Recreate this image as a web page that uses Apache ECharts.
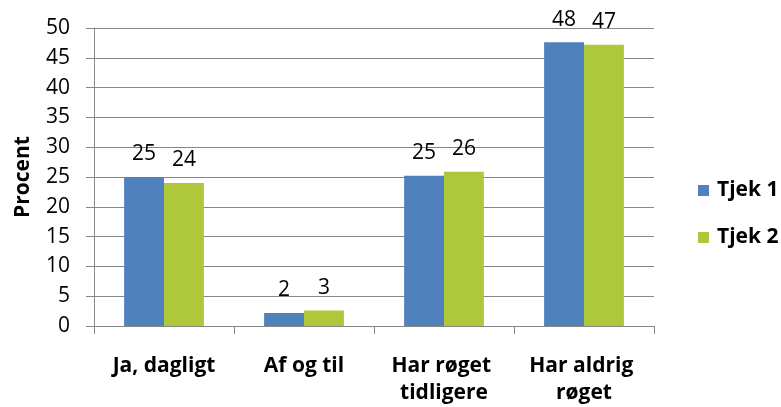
<!DOCTYPE html>
<html>
<head>
<meta charset="utf-8">
<script src="https://cdn.jsdelivr.net/npm/echarts@6/dist/echarts.min.js"></script>
<style>
html,body{margin:0;padding:0;background:#fff;}
#chart{width:781px;height:407px;}
</style>
</head>
<body>
<div id="chart"></div>
<script>
var categories = ["Ja, dagligt", "Af og til", "Har røget tidligere", "Har aldrig røget"];
var seriesNames = ["Tjek 1", "Tjek 2"];
var tjek1 = [25.0, 2.2, 25.2, 47.6];
var tjek2 = [24.0, 2.6, 25.9, 47.2];
var yTicks = [0, 5, 10, 15, 20, 25, 30, 35, 40, 45, 50];
var yAxisTitle = "Procent";

var FONT = "'Open Sans', 'Noto Sans', sans-serif";
var GRIDC = "#868686";

var chart = echarts.init(document.getElementById('chart'), null, {renderer: 'canvas'});

function labelCfg() {
  return {
    show: true,
    position: 'top',
    distance: 12,
    fontFamily: FONT,
    fontSize: 21,
    color: '#000',
    formatter: function (p) { return String(Math.round(p.value)); }
  };
}

chart.setOption({
  animation: false,
  backgroundColor: '#fff',
  grid: {left: 94, right: 127, top: 28, bottom: 80, containLabel: false},
  legend: {
    orient: 'vertical',
    left: 698,
    top: 180,
    itemWidth: 11,
    itemHeight: 11,
    itemGap: 26,
    icon: 'rect',
    data: seriesNames,
    textStyle: {fontFamily: FONT, fontSize: 21, fontWeight: 'bold', color: '#000', lineHeight: 21, padding: [0, 0, 0, 3]},
    padding: 0
  },
  xAxis: {
    type: 'category',
    data: categories,
    axisLine: {show: true, lineStyle: {color: GRIDC, width: 1}},
    axisTick: {show: true, alignWithLabel: false, length: 8, lineStyle: {color: GRIDC}},
    axisLabel: {
      interval: 0,
      margin: 27,
      fontFamily: FONT,
      fontSize: 21,
      fontWeight: 'bold',
      color: '#000',
      lineHeight: 27,
      width: 130,
      overflow: 'break'
    },
    splitLine: {show: false}
  },
  yAxis: {
    type: 'value',
    min: yTicks[0],
    max: yTicks[yTicks.length - 1],
    interval: yTicks[1] - yTicks[0],
    name: yAxisTitle,
    nameLocation: 'middle',
    nameGap: 60,
    nameRotate: 90,
    nameTextStyle: {fontFamily: FONT, fontSize: 21, fontWeight: 'bold', color: '#000'},
    axisLine: {show: true, lineStyle: {color: GRIDC, width: 1}},
    axisTick: {show: true, length: 8, lineStyle: {color: GRIDC}},
    axisLabel: {margin: 24, fontFamily: FONT, fontSize: 21, color: '#000'},
    splitLine: {show: true, lineStyle: {color: GRIDC, width: 1}}
  },
  series: [
    {
      name: seriesNames[0],
      type: 'bar',
      data: tjek1,
      barGap: '0%',
      barCategoryGap: '43%',
      itemStyle: {color: '#4F81BD'},
      label: labelCfg()
    },
    {
      name: seriesNames[1],
      type: 'bar',
      data: tjek2,
      barGap: '0%',
      barCategoryGap: '43%',
      itemStyle: {color: '#AFC83B'},
      label: labelCfg()
    }
  ]
});
</script>
</body>
</html>
